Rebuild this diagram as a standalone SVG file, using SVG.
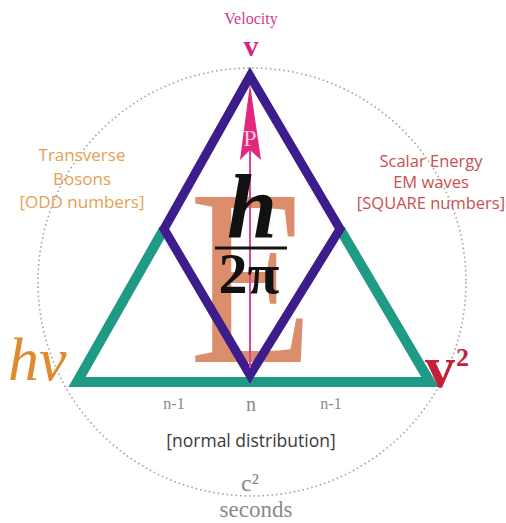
<svg xmlns="http://www.w3.org/2000/svg" width="506" height="523" viewBox="0 0 506 523">
<style>
.sans{font-family:"Open Sans","Noto Sans","Liberation Sans",sans-serif}
.serif{font-family:"Liberation Serif","DejaVu Serif",serif}
.orange{fill:#e6a055}
.red{fill:#c9504f}
.grey{fill:#8a8a8a}
</style>
<rect width="506" height="523" fill="#ffffff"/>
<g id="circle">
<circle cx="252" cy="282" r="214" fill="none" stroke="#a0a0a0" stroke-width="1.6" stroke-dasharray="1.5 3"/>
</g>
<g id="E">
<text transform="scale(0.8,1)" x="314" y="362" class="serif" font-size="252" fill="#dc8e6c" text-anchor="middle">E</text>
</g>
<g id="connectors">
<polyline points="164,229 77,382 430,382 340,229" fill="none" stroke="#1f9a84" stroke-width="10" stroke-linejoin="miter"/>
<polygon points="250,76 164,229 250,375 340,229" fill="none" stroke="#3d1c8c" stroke-width="9" stroke-linejoin="miter"/>
<line x1="250" y1="150" x2="250" y2="368" stroke="#d6479a" stroke-width="2"/>
</g>
<g id="arrow">
<polygon points="250,84 240,160 250,150 261,160" fill="#e2287e"/>
<text x="250" y="146" class="serif" font-size="24" fill="#f8c6dc" text-anchor="middle">P</text>
</g>
<g id="hbar">
<text x="252" y="237" class="serif" font-size="90" font-weight="bold" font-style="italic" fill="#111" text-anchor="middle">h</text>
<line x1="215" y1="248" x2="287" y2="248" stroke="#111" stroke-width="3"/>
<text x="249" y="293" class="serif" font-size="58" font-weight="bold" fill="#111" text-anchor="middle">2π</text>
</g>
<g id="velocity">
<text x="251" y="24" class="serif" font-size="16" fill="#d0408a" text-anchor="middle">Velocity</text>
<text x="251" y="56" class="serif" font-size="30" font-weight="bold" fill="#d6287a" text-anchor="middle">v</text>
</g>
<g id="transverse">
<text x="82" y="161" class="sans orange" font-size="17" text-anchor="middle">Transverse</text>
<text x="82" y="185" class="sans orange" font-size="17" text-anchor="middle">Bosons</text>
<text x="82" y="208" class="sans orange" font-size="17" text-anchor="middle">[ODD numbers]</text>
</g>
<g id="scalar">
<text x="431" y="167" class="sans red" font-size="16.5" text-anchor="middle">Scalar Energy</text>
<text x="431" y="188" class="sans red" font-size="16.5" text-anchor="middle">EM waves</text>
<text x="431" y="209" class="sans red" font-size="16.5" text-anchor="middle">[SQUARE numbers]</text>
</g>
<g id="hv">
<text x="8" y="380" class="serif" font-size="62" font-style="italic" fill="#e08a30">hv</text>
</g>
<g id="v2">
<text x="425" y="387" class="serif" font-size="60" font-weight="bold" fill="#c4203a">v</text>
<text x="456" y="366" class="serif" font-size="26" font-weight="bold" fill="#c4203a">2</text>
</g>
<g id="n-labels">
<text x="174" y="409" class="serif grey" font-size="16" text-anchor="middle">n-1</text>
<text x="251" y="411" class="serif grey" font-size="20" text-anchor="middle">n</text>
<text x="331" y="409" class="serif grey" font-size="16" text-anchor="middle">n-1</text>
</g>
<g id="normal">
<text x="251" y="447" class="sans" font-size="17.5" fill="#3a3a3a" text-anchor="middle">[normal distribution]</text>
</g>
<g id="seconds">
<text x="250" y="491" class="serif grey" font-size="24" text-anchor="middle">c²</text>
<text x="256" y="517" class="serif grey" font-size="23" text-anchor="middle">seconds</text>
</g>
</svg>
